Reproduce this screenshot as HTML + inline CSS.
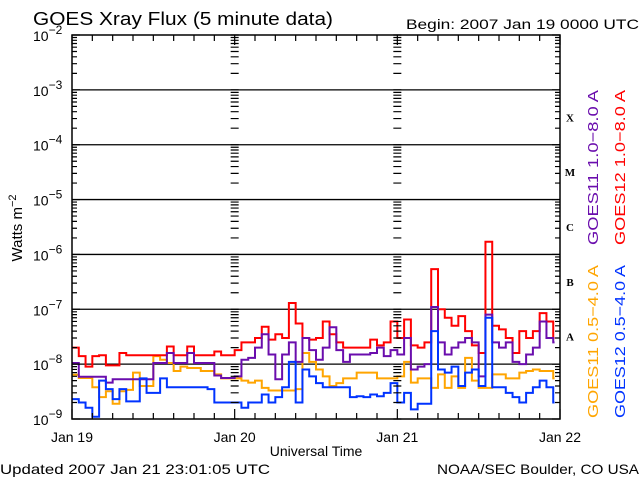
<!DOCTYPE html>
<html><head><meta charset="utf-8"><style>
html,body{margin:0;padding:0;background:#fff;}
svg{display:block;font-family:"Liberation Sans",sans-serif;}
</style></head><body>
<svg id="chart" width="640" height="480" viewBox="0 0 640 480" xmlns="http://www.w3.org/2000/svg">
<rect width="640" height="480" fill="#fff"/>
<text x="33" y="25" font-size="18" textLength="300" lengthAdjust="spacingAndGlyphs">GOES Xray Flux (5 minute data)</text>
<text x="406" y="29" font-size="14" textLength="233" lengthAdjust="spacingAndGlyphs">Begin:  2007 Jan 19 0000 UTC</text>
<text transform="translate(22,228) rotate(-90)" text-anchor="middle" font-size="15">Watts m<tspan dy="-6" font-size="11">−2</tspan></text>
<text x="316" y="456" text-anchor="middle" font-size="14">Universal Time</text>
<text x="0" y="474" font-size="14" textLength="270" lengthAdjust="spacingAndGlyphs">Updated 2007 Jan 21 23:01:05 UTC</text>
<text x="639" y="474" text-anchor="end" font-size="14" textLength="202" lengthAdjust="spacingAndGlyphs">NOAA/SEC Boulder, CO USA</text>
<g id="grid"></g><g id="series"></g><g id="axes"></g>
<text transform="translate(598,245) rotate(-90)" font-size="15" fill="#6a0dad" textLength="155" lengthAdjust="spacingAndGlyphs">GOES11 1.0−8.0 A</text>
<text transform="translate(625,245) rotate(-90)" font-size="15" fill="#ff0000" textLength="155" lengthAdjust="spacingAndGlyphs">GOES12 1.0−8.0 A</text>
<text transform="translate(598,418) rotate(-90)" font-size="15" fill="#ffa500" textLength="153" lengthAdjust="spacingAndGlyphs">GOES11 0.5−4.0 A</text>
<text transform="translate(625,418) rotate(-90)" font-size="15" fill="#0033ff" textLength="153" lengthAdjust="spacingAndGlyphs">GOES12 0.5−4.0 A</text>
</svg>
<script>
const dayLabels = ["Jan 19","Jan 20","Jan 21","Jan 22"];
const decadeExps = [-2,-3,-4,-5,-6,-7,-8,-9];
const classLetters = ["X","M","C","B","A"];
const classLevels = [-3.5,-4.5,-5.5,-6.5,-7.5];
const endHour = 71.2;
const red = [2.0e-8,1.4e-8,9e-9,1.4e-8,1.45e-8,9.5e-9,9.5e-9,1.6e-8,1.45e-8,1.45e-8,1.45e-8,1.45e-8,1.45e-8,1.45e-8,2.1e-8,1.45e-8,1.45e-8,2.1e-8,1.45e-8,1.45e-8,1.45e-8,1.7e-8,1.45e-8,1.45e-8,
 1.8e-8,2.5e-8,2.5e-8,3e-8,4.8e-8,2.8e-8,3.5e-8,3e-8,1.3e-7,5.5e-8,3e-8,2.8e-8,3e-8,6e-8,3.5e-8,2.5e-8,2.0e-8,2.0e-8,2.0e-8,2.0e-8,2.8e-8,2.2e-8,2.5e-8,6e-8,
 3e-8,6.5e-8,2.2e-8,2.0e-8,2.5e-8,5.4e-7,1.0e-7,7e-8,5e-8,7.5e-8,4e-8,2.2e-8,1.6e-8,1.7e-6,5e-8,4.3e-8,3e-8,1.6e-8,4e-8,3e-8,4e-8,8.5e-8,6e-8,3e-8];
const purple = [1.05e-8,5.9e-9,5.9e-9,5.9e-9,5.9e-9,4.6e-9,5.3e-9,5.3e-9,5.3e-9,5.3e-9,5.3e-9,5.3e-9,1.05e-8,1.05e-8,1.6e-8,1.05e-8,1.05e-8,1.6e-8,1.05e-8,1.05e-8,1.05e-8,6.2e-9,5.6e-9,5.6e-9,
 6e-9,1.2e-8,1.3e-8,2e-8,3.5e-8,1.5e-8,5.3e-9,1.5e-8,2.5e-8,1.1e-8,3e-8,1.8e-8,1.2e-8,2e-8,4.7e-8,1.8e-8,1.1e-8,1.5e-8,1.5e-8,1.5e-8,1.6e-8,2e-8,1.4e-8,1.8e-8,
 1.5e-8,3e-8,8e-9,9e-9,1.0e-8,1.1e-7,2.5e-8,1.5e-8,2e-8,2.5e-8,3e-8,2.5e-8,6e-9,8e-8,2.5e-8,2e-8,2.5e-8,1.1e-8,1.0e-8,1.5e-8,2e-8,6e-8,3e-8,2.5e-8];
const orange = [6.4e-9,5.6e-9,5.6e-9,3.8e-9,2.5e-9,3.2e-9,1.9e-9,3.2e-9,3.4e-9,7e-9,4e-9,4e-9,1.4e-8,1.2e-8,1.05e-8,7.5e-9,9e-9,8.5e-9,8.5e-9,7.5e-9,7.5e-9,6.5e-9,5.5e-9,5.5e-9,
 5.5e-9,5e-9,4.6e-9,5e-9,3.7e-9,3.3e-9,3.3e-9,3.3e-9,3.3e-9,3.5e-9,1.6e-8,1.1e-8,8e-9,6e-9,4e-9,4.5e-9,5.5e-9,5.5e-9,7e-9,7e-9,7e-9,5.5e-9,5.5e-9,5.5e-9,
 6e-9,1.1e-8,4.6e-9,5.5e-9,5.5e-9,3.7e-9,6.5e-9,3.7e-9,6e-9,3.7e-9,1.3e-8,5e-9,3.7e-9,3.7e-9,6.5e-9,6.5e-9,5.5e-9,5.5e-9,7e-9,7.5e-9,8e-9,7.5e-9,7.5e-9,5.5e-9];
const blue = [2.3e-9,2.0e-9,1.6e-9,1.1e-9,5e-9,3.5e-9,2.3e-9,3.5e-9,2.1e-9,2.1e-9,5.5e-9,3e-9,3e-9,5.5e-9,3.8e-9,3.8e-9,3.8e-9,3.8e-9,3.8e-9,3.8e-9,3.5e-9,2.0e-9,2.0e-9,2.0e-9,
 2.0e-9,1.6e-9,2.0e-9,2.0e-9,2.8e-9,2.0e-9,2.5e-9,3.8e-9,1.1e-8,2.0e-9,8e-9,6e-9,4.5e-9,3.8e-9,3.8e-9,3.8e-9,3.8e-9,2.5e-9,2.6e-9,2.5e-9,2.8e-9,2.6e-9,3e-9,4.5e-9,
 2.0e-9,3e-9,1.5e-9,1.9e-9,1.9e-9,4e-8,8e-9,7e-9,9e-9,4e-9,7e-9,8e-9,4e-9,7e-8,3.8e-9,3.8e-9,3e-9,2.5e-9,2e-9,3e-9,3.8e-9,5e-9,3.8e-9,2e-9];

const X0=72, X1=560, Y0=35, Y1=419, NS="http://www.w3.org/2000/svg";
const xs = h => X0 + h*(X1-X0)/72;
const ys = v => Y0 + (-2 - Math.log10(v))*(Y1-Y0)/7;
function mk(tag, attrs, parent){const e=document.createElementNS(NS,tag);for(const k in attrs)e.setAttribute(k,attrs[k]);parent.appendChild(e);return e;}
const grid=document.getElementById('grid'), axes=document.getElementById('axes'), ser=document.getElementById('series');

decadeExps.forEach(ex=>{
  const y=ys(Math.pow(10,ex));
  if(ex<-2 && ex>-9){
    const l=mk('line',{x1:X0,x2:X1,y1:y,y2:y,stroke:'#000','stroke-width':1.3},grid);
    
    
  }
  const t=mk('text',{x:50,y:y+6,'text-anchor':'end','font-size':14},axes);
  
  
  t.textContent='10';
  const s=mk('tspan',{dy:-7,'font-size':12},t); s.textContent='−'+(-ex);
  // place exponent after 10
  t.setAttribute('x',33); t.setAttribute('text-anchor','start');
});
// minor ticks
let tk='';
for(let ex=-9;ex<-2;ex++){for(let k=1;k<=10;k++){const y=ys(k*Math.pow(10,ex));
  const L=(k===1||k===10)?8:5;
  tk+=`M${X0} ${y}h${L}M${X1} ${y}h${-L}`;
  [1,2].forEach(d=>{const xd=xs(24*d);tk+=`M${xd-4} ${y}h8`;});
}}
for(let h=0;h<=72;h+=3){const x=xs(h);const L=(h%24===0)?10:6;tk+=`M${x} ${Y1}v${-L}M${x} ${Y0}v${L}`;}
const ticks=mk('path',{d:tk,stroke:'#000','stroke-width':1.2,fill:'none'},axes);


const frame=mk('rect',{x:X0,y:Y0,width:X1-X0,height:Y1-Y0,fill:'none',stroke:'#000','stroke-width':1.5},axes);


dayLabels.forEach((d,i)=>{
  const t=mk('text',{x:xs(24*i),y:442,'text-anchor':'middle','font-size':14},axes);
  
  
  t.textContent=d;
});
classLetters.forEach((c,i)=>{
  const t=mk('text',{x:570,y:ys(Math.pow(10,classLevels[i]))+4,'text-anchor':'middle','font-size':11,'font-weight':'bold','font-family':'Liberation Serif, serif'},axes);
  
  
  t.textContent=c;
});
function series(vals,color,name){
  let d='';
  vals.forEach((v,i)=>{const y=ys(v);const xa=xs(i), xb=xs(Math.min(i+1,endHour));
    d+=(i===0?'M':'L')+xa+' '+y+'L'+xb+' '+y;});
  const p=mk('path',{d:d,stroke:color,'stroke-width':2,fill:'none'},ser);
  
  
}
series(orange,'#ffa500','series-goes11-0.5-4.0');
series(red,'#ff0000','series-goes12-1.0-8.0');
series(purple,'#6a0dad','series-goes11-1.0-8.0');
series(blue,'#0033ff','series-goes12-0.5-4.0');
</script>
</body></html>
